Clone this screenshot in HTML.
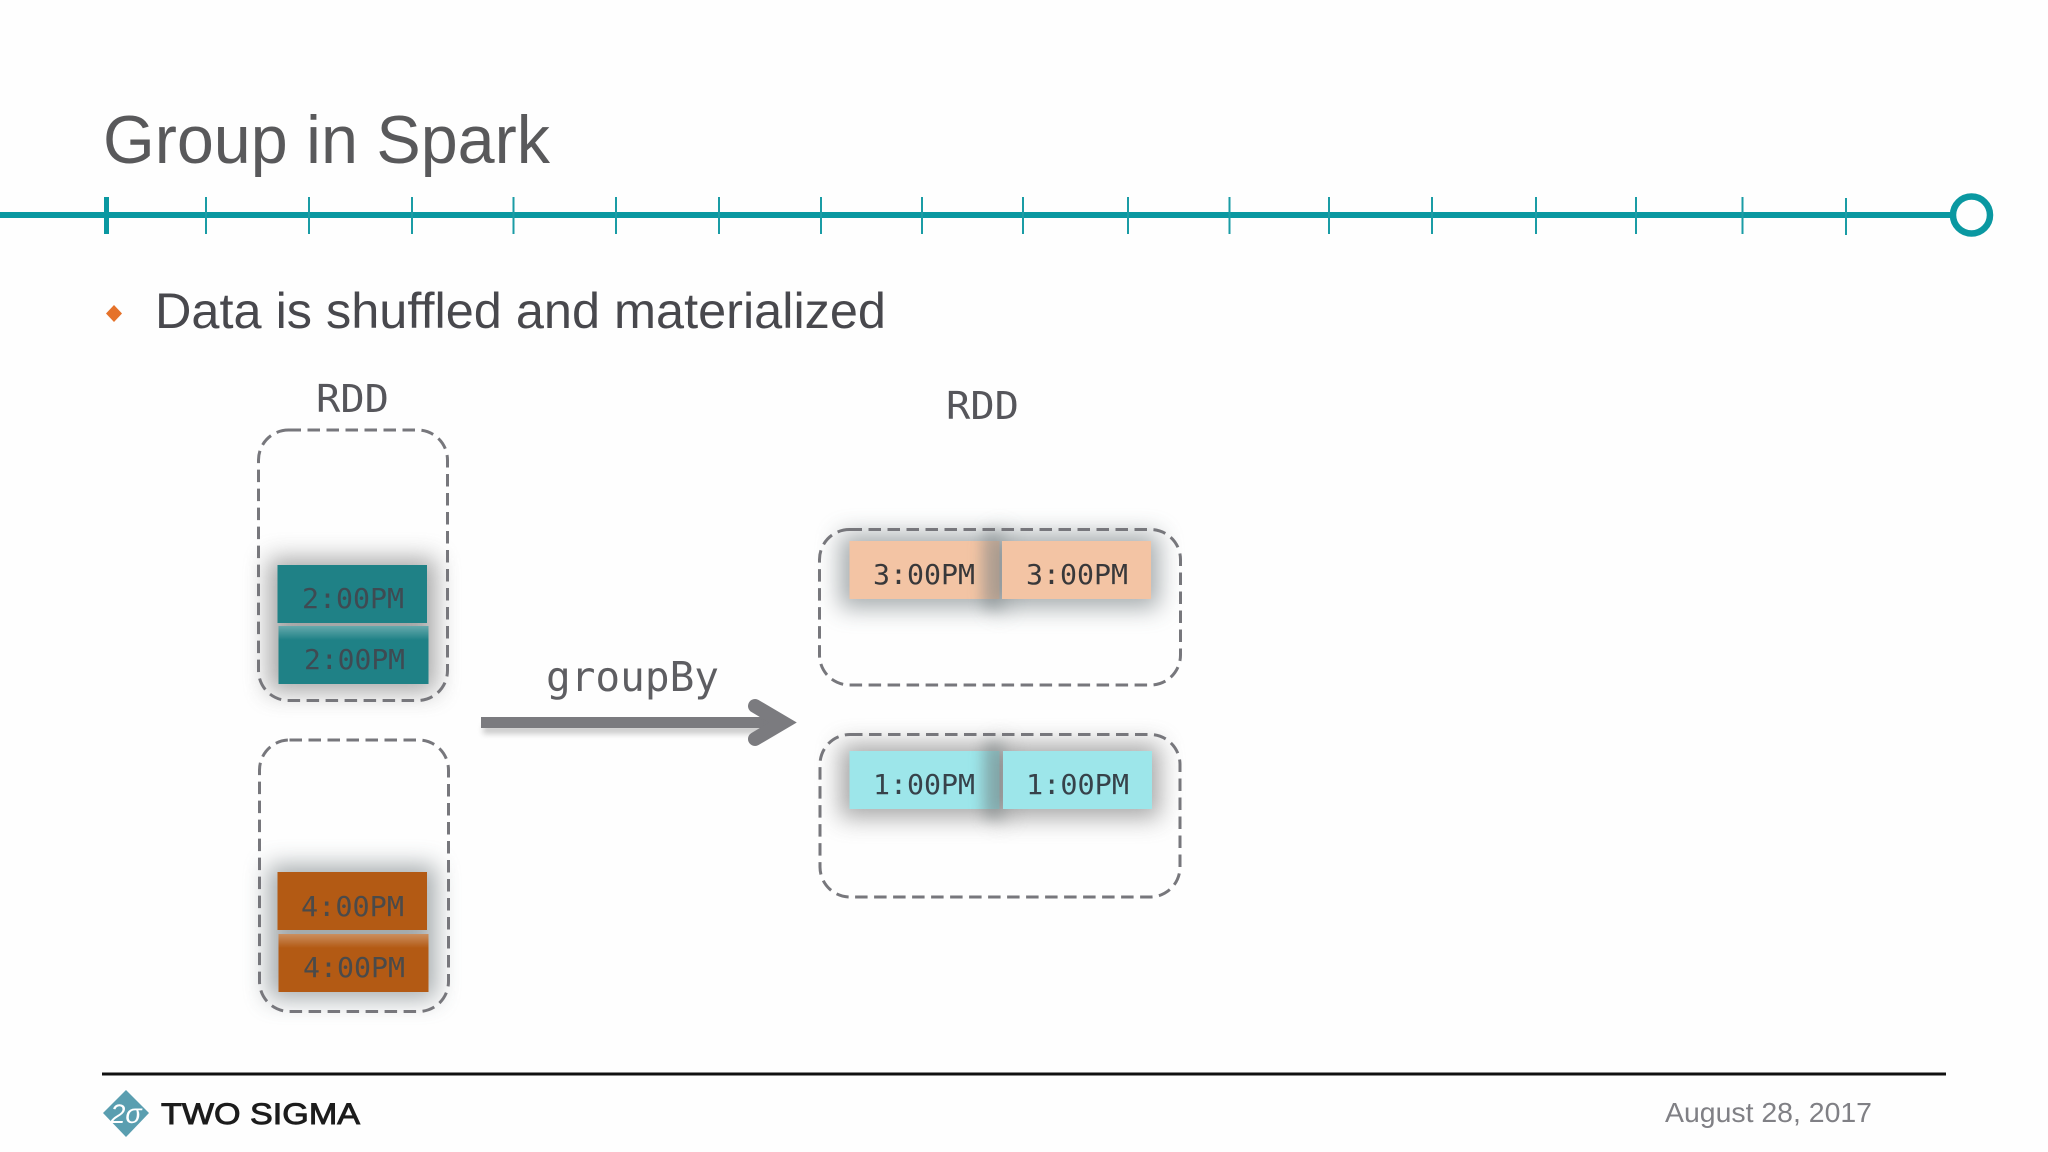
<!DOCTYPE html>
<html><head><meta charset="utf-8"><style>html,body{margin:0;padding:0;background:#fefefe}svg{display:block}</style></head><body>
<svg xmlns="http://www.w3.org/2000/svg" width="2048" height="1152" viewBox="0 0 2048 1152">
<defs>
<filter id="b" x="-40%" y="-100%" width="180%" height="300%"><feGaussianBlur stdDeviation="12"/></filter>
<filter id="a" x="-5%" y="-80%" width="110%" height="260%"><feGaussianBlur stdDeviation="3"/></filter>
<filter id="s" x="-150%" y="-30%" width="400%" height="160%"><feGaussianBlur stdDeviation="6"/></filter>
<linearGradient id="gl" x1="0" y1="0" x2="0" y2="1"><stop offset="0" stop-color="#fff" stop-opacity=".32"/><stop offset="1" stop-color="#fff" stop-opacity="0"/></linearGradient>
</defs>
<rect width="2048" height="1152" fill="#fefefe"/>
<text x="103" y="163" font-family="Liberation Sans, sans-serif" font-size="68" fill="#59595b" textLength="447" lengthAdjust="spacingAndGlyphs">Group in Spark</text>
<!-- timeline -->
<rect x="0" y="212" width="1952" height="6" fill="#0a98a1"/>
<g stroke="#1a9ca5" stroke-width="2">
<path d="M206 197V234M309 197V234M412 197V234M513.500 197V234M616 197V234M719 197V234M821 197V234M922 197V234M1023 197V234M1128 197V234M1229.500 197V234M1329 197V234M1432 197V234M1536 197V234M1636 197V234M1742.500 197V234M1846 198V235"/>
</g>
<rect x="104" y="197" width="5" height="37" fill="#0a98a1"/>
<circle cx="1971.500" cy="215" r="18.500" fill="#fefefe" stroke="#0a98a1" stroke-width="6.500"/>
<!-- bullet -->
<polygon points="114,305 122,313.500 114,322 106,313.500" fill="#e5722a"/>
<text x="155" y="328" font-family="Liberation Sans, sans-serif" font-size="50" fill="#48484d" textLength="731" lengthAdjust="spacingAndGlyphs">Data is shuffled and materialized</text>
<!-- labels -->
<g font-family="DejaVu Sans Mono, Liberation Mono, monospace" fill="#56565b">
<text x="316" y="412" font-size="38" textLength="73" lengthAdjust="spacingAndGlyphs">RDD</text>
<text x="946" y="419" font-size="38" textLength="73" lengthAdjust="spacingAndGlyphs">RDD</text>
<text x="546" y="691" font-size="41" textLength="173" lengthAdjust="spacingAndGlyphs" fill="#5e5e62">groupBy</text>
</g>
<!-- left 1 -->
<rect x="268" y="558" width="168" height="134" fill="#6e6e6e" opacity=".6" filter="url(#b)"/>
<rect x="277.500" y="565" width="149.500" height="58" fill="#1f8186"/>
<rect x="278.500" y="626" width="150" height="58" fill="#1f8186"/>
<rect x="278.500" y="626" width="150" height="14" fill="url(#gl)"/>
<!-- left 2 -->
<rect x="268" y="865" width="168" height="134" fill="#6b7478" opacity=".6" filter="url(#b)"/>
<rect x="277.500" y="872" width="149.500" height="58" fill="#b35a14"/>
<rect x="278.500" y="934" width="150" height="58" fill="#b35a14"/>
<rect x="278.500" y="934" width="150" height="14" fill="url(#gl)"/>
<!-- right 1 -->
<rect x="840" y="534" width="166" height="74" fill="#6b7478" opacity=".6" filter="url(#b)"/>
<rect x="849.500" y="541" width="150" height="58" fill="#f3c4a4"/>
<rect x="993" y="534" width="166" height="74" fill="#6b7478" opacity=".6" filter="url(#b)"/>
<rect x="982" y="531" width="20" height="78" fill="#7d8688" opacity=".32" filter="url(#s)"/>
<rect x="1002" y="541" width="149" height="58" fill="#f3c4a4"/>
<!-- right 2 -->
<rect x="840" y="744" width="166" height="74" fill="#6e6e6e" opacity=".6" filter="url(#b)"/>
<rect x="849.500" y="751" width="150" height="58" fill="#9de6ea"/>
<rect x="994" y="744" width="166" height="74" fill="#6e6e6e" opacity=".6" filter="url(#b)"/>
<rect x="983" y="741" width="20" height="78" fill="#6e7a7c" opacity=".32" filter="url(#s)"/>
<rect x="1003" y="751" width="149" height="58" fill="#9de6ea"/>
<!-- dashed boxes -->
<g fill="none" stroke="#77777c" stroke-width="3" stroke-dasharray="12.500 6.500">
<rect x="258.500" y="430" width="189" height="270.500" rx="30"/>
<rect x="259.500" y="740" width="189" height="271.500" rx="30"/>
<rect x="819.500" y="529.500" width="361" height="155.500" rx="30"/>
<rect x="820" y="734.500" width="360" height="162.500" rx="30"/>
</g>
<!-- rect text -->
<g font-family="DejaVu Sans Mono, Liberation Mono, monospace" font-size="28">
<g fill="#3f4a52">
<text x="302" y="608" textLength="102" lengthAdjust="spacingAndGlyphs">2:00PM</text>
<text x="304" y="669" textLength="101" lengthAdjust="spacingAndGlyphs">2:00PM</text></g>
<g fill="#4a4a4a">
<text x="301" y="916" textLength="103" lengthAdjust="spacingAndGlyphs">4:00PM</text>
<text x="303" y="977" textLength="102" lengthAdjust="spacingAndGlyphs">4:00PM</text></g>
<g fill="#38383a">
<text x="873" y="584" textLength="102" lengthAdjust="spacingAndGlyphs">3:00PM</text>
<text x="1026" y="584" textLength="102" lengthAdjust="spacingAndGlyphs">3:00PM</text></g>
<g fill="#37424a">
<text x="873" y="794" textLength="102" lengthAdjust="spacingAndGlyphs">1:00PM</text>
<text x="1026" y="794" textLength="103" lengthAdjust="spacingAndGlyphs">1:00PM</text></g>
</g>
<!-- arrow -->
<rect x="483" y="725" width="290" height="9" fill="#999" opacity=".5" filter="url(#a)"/>
<rect x="481" y="717" width="290" height="11" fill="#7b7b7f"/>
<polygon points="764,722.500 756,712 796,722.500 756,733" fill="#7b7b7f"/>
<path d="M755 706 L783 722.500 L755 739" fill="none" stroke="#7b7b7f" stroke-width="14" stroke-linecap="round" stroke-linejoin="miter" stroke-miterlimit="8"/>
<!-- footer -->
<rect x="102" y="1072.500" width="1844" height="3" fill="#111"/>
<polygon points="126,1090 149,1113 126,1137 103,1113" fill="#5a9eb0"/>
<text x="126" y="1123" text-anchor="middle" font-family="Liberation Sans, sans-serif" font-style="italic" font-size="27" fill="#fff">2σ</text>
<text x="161" y="1124" font-family="Liberation Sans, sans-serif" font-size="30" fill="#1c1c1c" stroke="#1c1c1c" stroke-width=".9" textLength="199" lengthAdjust="spacingAndGlyphs">TWO SIGMA</text>
<text x="1665" y="1122" font-family="Liberation Sans, sans-serif" font-size="28" fill="#808085" textLength="207" lengthAdjust="spacingAndGlyphs">August 28, 2017</text>
</svg>
</body></html>
